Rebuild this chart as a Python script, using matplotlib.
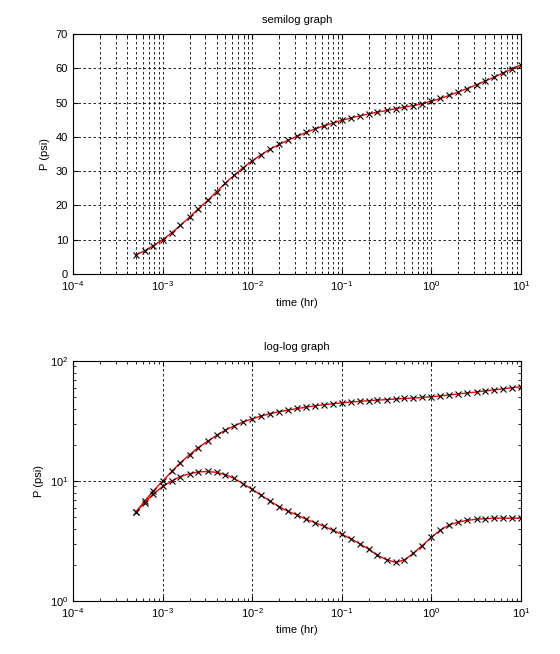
import matplotlib
matplotlib.use("Agg")
import matplotlib.pyplot as plt
from matplotlib.ticker import LogLocator, NullFormatter

matplotlib.rcParams["font.family"] = ["Liberation Sans", "DejaVu Sans"]
matplotlib.rcParams["font.size"] = 8

time_hr = [5.0e-4, 6.3e-4, 7.9e-4, 1.0e-3, 1.26e-3, 1.58e-3, 2.0e-3, 2.5e-3, 3.2e-3, 4.0e-3,
           5.0e-3, 6.3e-3, 7.9e-3, 1.0e-2, 1.26e-2, 1.58e-2, 2.0e-2, 2.5e-2, 3.2e-2, 4.0e-2,
           5.0e-2, 6.3e-2, 7.9e-2, 0.1, 0.126, 0.158, 0.2, 0.25, 0.32, 0.4,
           0.5, 0.63, 0.79, 1.0, 1.26, 1.58, 2.0, 2.5, 3.2, 4.0,
           5.0, 6.3, 7.9, 10.0]
pressure = [5.5, 6.8, 8.3, 10.0, 12.0, 14.2, 16.6, 19.0, 21.5, 24.0,
            26.5, 28.8, 31.0, 33.0, 34.8, 36.4, 37.8, 39.0, 40.2, 41.3,
            42.3, 43.2, 44.0, 44.8, 45.5, 46.1, 46.7, 47.2, 47.7, 48.2,
            48.7, 49.1, 49.7, 50.4, 51.2, 52.1, 53.1, 54.1, 55.2, 56.3,
            57.4, 58.6, 59.8, 61.0]
derivative = [5.5, 6.6, 7.8, 9.0, 10.0, 10.9, 11.5, 11.9, 12.0, 11.8,
              11.3, 10.5, 9.5, 8.5, 7.6, 6.8, 6.1, 5.6, 5.2, 4.8,
              4.5, 4.2, 3.9, 3.6, 3.3, 3.0, 2.7, 2.4, 2.2, 2.1,
              2.2, 2.5, 2.9, 3.4, 3.9, 4.3, 4.55, 4.7, 4.8, 4.85,
              4.9, 4.9, 4.9, 4.9]

fig = plt.figure(figsize=(5.6, 6.54), dpi=100)
W, H = 560, 654
ax1 = fig.add_axes([73 / W, 1 - 274 / H, 448 / W, 240 / H])
ax2 = fig.add_axes([73 / W, 1 - 601 / H, 448 / W, 240 / H])

grid_kw = dict(color="black", ls=(0, (3, 3)), lw=0.6)

# semilog
ax1.plot(time_hr, pressure, color="red", lw=1)
ax1.plot(time_hr, pressure, "x", color="black", ms=5, mew=0.8)
ax1.set_xscale("log")
ax1.set_xlim(1e-4, 10)
ax1.set_ylim(0, 70)
ax1.set_yticks(range(0, 71, 10))
ax1.xaxis.set_minor_locator(LogLocator(subs=range(2, 10)))
ax1.xaxis.set_minor_formatter(NullFormatter())
ax1.grid(True, which="major", **grid_kw)
ax1.grid(True, which="minor", axis="x", **grid_kw)
ax1.set_title("semilog graph", fontsize=8, pad=8)
ax1.set_xlabel("time (hr)")
ax1.set_ylabel("P (psi)")

# log-log
for y in (pressure, derivative):
    ax2.plot(time_hr, y, color="red", lw=1)
    ax2.plot(time_hr, y, "x", color="black", ms=5, mew=0.8)
ax2.set_xscale("log")
ax2.set_yscale("log")
ax2.set_xlim(1e-4, 10)
ax2.set_ylim(1, 100)
ax2.grid(True, which="major", **grid_kw)
ax2.set_title("log-log graph", fontsize=8, pad=8)
ax2.set_xlabel("time (hr)")
ax2.set_ylabel("P (psi)")

for ax in (ax1, ax2):
    ax.tick_params(which="both", direction="in", top=True, right=True)

fig.savefig("out.png", dpi=100)
